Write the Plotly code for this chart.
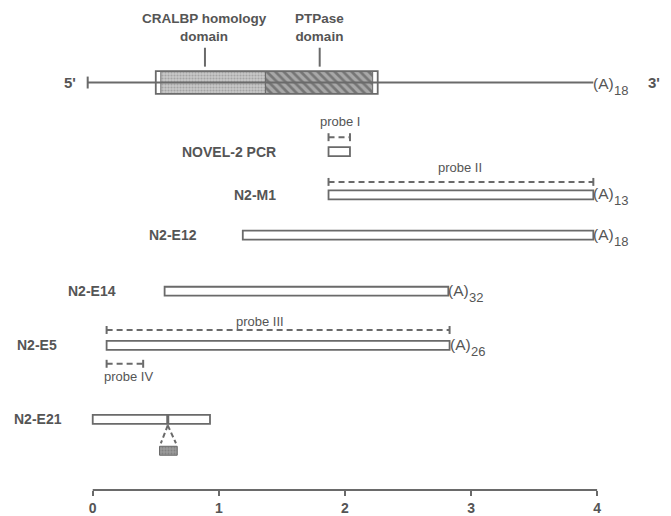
import plotly.graph_objects as go

# ---------------- data (kb) ----------------
gene_line = [-0.04, 3.97]
gene_box = [0.50, 2.26]
cralbp_domain = [0.54, 1.37]
ptpase_domain = [1.37, 2.22]
domain_labels = ["CRALBP homology<br>domain", "PTPase<br>domain"]
domain_marks = [0.89, 1.80]
gene_polyA = "18"

clone_names = ["NOVEL-2 PCR", "N2-M1", "N2-E12", "N2-E14", "N2-E5", "N2-E21"]
clone_start = [1.87, 1.87, 1.19, 0.57, 0.11, 0.0]
clone_end = [2.04, 3.97, 3.97, 2.82, 2.83, 0.93]
clone_polyA = [None, "13", "18", "32", "26", None]

probe_names = ["probe I", "probe II", "probe III", "probe IV"]
probe_start = [1.87, 1.87, 0.11, 0.11]
probe_end = [2.04, 3.97, 2.83, 0.40]

e21_mark = 0.595
e21_insert = [0.53, 0.67]

tick_vals = [0, 1, 2, 3, 4]
tick_text = ["0", "1", "2", "3", "4"]

# ---------------- layout helpers (pixel rows) ----------------
GENE_Y = 83
clone_y = [152.5, 196, 236.5, 293, 347.5, 422]
probe_y = [138, 183, 332, 366]
probe_text_y = [122, 168, 323, 379]
BOX_H = 9

LINE = "#6a6a6a"
TXT = "#555555"
FONT = "Liberation Sans, Arial, sans-serif"

fig = go.Figure()

# main gene line
fig.add_trace(go.Scatter(x=gene_line, y=[GENE_Y, GENE_Y], mode="lines",
                         line=dict(color=LINE, width=2), hoverinfo="skip"))
fig.add_trace(go.Scatter(x=[gene_line[0], gene_line[0]], y=[GENE_Y - 6, GENE_Y + 6], mode="lines",
                         line=dict(color=LINE, width=2), hoverinfo="skip"))

# gene box (white ends) and domains
fig.add_trace(go.Bar(orientation="h", y=[GENE_Y], base=[gene_box[0]], x=[gene_box[1] - gene_box[0]],
                     width=23, marker=dict(color="white", line=dict(color=LINE, width=1.8)),
                     hoverinfo="skip"))
fig.add_trace(go.Bar(orientation="h", y=[GENE_Y], base=[cralbp_domain[0]],
                     x=[cralbp_domain[1] - cralbp_domain[0]], width=22,
                     marker=dict(color="#c8c8c8", line=dict(color=LINE, width=1),
                                 pattern=dict(shape=".", fgcolor="#808080", size=3, solidity=0.4,
                                              fillmode="overlay")),
                     hoverinfo="skip"))
fig.add_trace(go.Bar(orientation="h", y=[GENE_Y], base=[ptpase_domain[0]],
                     x=[ptpase_domain[1] - ptpase_domain[0]], width=22,
                     marker=dict(color="#a8a8a8", line=dict(color=LINE, width=1),
                                 pattern=dict(shape="\\", fgcolor="#444444", size=6, solidity=0.45,
                                              fillmode="overlay")),
                     hoverinfo="skip"))

# domain marks
for xm in domain_marks:
    fig.add_trace(go.Scatter(x=[xm, xm], y=[48, 67], mode="lines",
                             line=dict(color=LINE, width=2), hoverinfo="skip"))

# clones
fig.add_trace(go.Bar(orientation="h", y=clone_y, base=clone_start,
                     x=[e - s for s, e in zip(clone_start, clone_end)], width=BOX_H,
                     marker=dict(color="white", line=dict(color=LINE, width=1.8)),
                     hoverinfo="skip"))

# probes (dashed with end ticks)
for s, e, yy in zip(probe_start, probe_end, probe_y):
    fig.add_trace(go.Scatter(x=[s, e], y=[yy, yy], mode="lines",
                             line=dict(color=LINE, width=2, dash="6px,4px"), hoverinfo="skip"))
    fig.add_trace(go.Scatter(x=[s, s, None, e, e], y=[yy - 4, yy + 4, None, yy - 4, yy + 4],
                             mode="lines", line=dict(color=LINE, width=2), hoverinfo="skip"))

# N2-E21 insertion
e21_y = clone_y[5]
fig.add_trace(go.Scatter(x=[e21_mark, e21_mark], y=[e21_y - 5, e21_y + 5], mode="lines",
                         line=dict(color=LINE, width=3), hoverinfo="skip"))
fig.add_trace(go.Scatter(x=[e21_mark, e21_insert[0] + 0.01, None, e21_mark, e21_insert[1] - 0.01],
                         y=[e21_y + 6, 446, None, e21_y + 6, 446], mode="lines",
                         line=dict(color=LINE, width=2, dash="5px,3px"), hoverinfo="skip"))
fig.add_trace(go.Bar(orientation="h", y=[453.5], base=[e21_insert[0]],
                     x=[e21_insert[1] - e21_insert[0]], width=9,
                     marker=dict(color="#9a9a9a", line=dict(color="#666", width=1),
                                 pattern=dict(shape=".", fgcolor="#6a6a6a", size=3, solidity=0.3,
                                              fillmode="overlay")),
                     hoverinfo="skip"))

# axis baseline (clipped in x only)
fig.add_shape(type="line", xref="x", yref="paper", x0=tick_vals[0], x1=tick_vals[-1], y0=0, y1=0,
              line=dict(color=LINE, width=2))

ann = []
# domain labels
for lab, xm in zip(domain_labels, domain_marks):
    ann.append(dict(x=xm, y=28, text="<b>" + lab + "</b>", showarrow=False,
                    font=dict(size=13.5, color=TXT, family=FONT), xanchor="center", yanchor="middle"))
# 5' / 3'
ann.append(dict(x=gene_line[0], y=GENE_Y, text="<b>5'</b>", showarrow=False, xanchor="right",
                xshift=-10, font=dict(size=15, color=TXT, family=FONT)))
ann.append(dict(x=gene_line[1], y=GENE_Y, text="<b>3'</b>", showarrow=False, xanchor="left",
                xshift=53, font=dict(size=15, color=TXT, family=FONT)))


def polyA(xe, yc, n):
    ann.append(dict(x=xe, y=yc, text="(A)", showarrow=False, xanchor="left", xshift=-2,
                    font=dict(size=15.5, color=TXT, family=FONT)))
    ann.append(dict(x=xe, y=yc + 7, text=n, showarrow=False, xanchor="left", xshift=19,
                    font=dict(size=13, color=TXT, family=FONT)))


polyA(gene_line[1], GENE_Y + 1, gene_polyA)
for name, s, e, yy, pa in zip(clone_names, clone_start, clone_end, clone_y, clone_polyA):
    if pa:
        polyA(e, yy - 1, pa)

# clone labels (right aligned, placed left of the box)
label_x = [1.47, 1.47, 0.84, 0.20, -0.27, -0.23]
for name, lx, yy in zip(clone_names, label_x, clone_y):
    ann.append(dict(x=lx, y=yy, text="<b>" + name + "</b>", showarrow=False, xanchor="right",
                    font=dict(size=14, color=TXT, family=FONT)))

# probe labels
probe_text_x = [1.96, 2.91, 1.33, 0.285]
for name, px, yy in zip(probe_names, probe_text_x, probe_text_y):
    ann.append(dict(x=px, y=yy, text=name, showarrow=False, xanchor="center",
                    font=dict(size=13, color=TXT, family=FONT)))

# axis unit
ann.append(dict(x=4.25, y=508, text="<b>(kb)</b>", showarrow=False, xanchor="center",
                font=dict(size=14, color=TXT, family=FONT)))

# the page body has an 8px margin: figure is 8px smaller, axes ranges in page pixels
fig.update_layout(
    width=663, height=508,
    margin=dict(l=0, r=0, t=0, b=15),
    paper_bgcolor="white", plot_bgcolor="white",
    showlegend=False, barmode="overlay",
    annotations=ann,
    xaxis=dict(range=[-0.672, 4.586], showgrid=False, zeroline=False, showline=False,
               tickmode="array", tickvals=tick_vals, ticktext=tick_text,
               ticks="outside", ticklen=5, tickwidth=2, tickcolor=LINE,
               tickfont=dict(size=14, color=TXT, family=FONT, weight="bold")),
    yaxis=dict(range=[493, 8], showgrid=False, zeroline=False, showline=False,
               showticklabels=False, ticks=""),
)

fig.write_html("out.html")
